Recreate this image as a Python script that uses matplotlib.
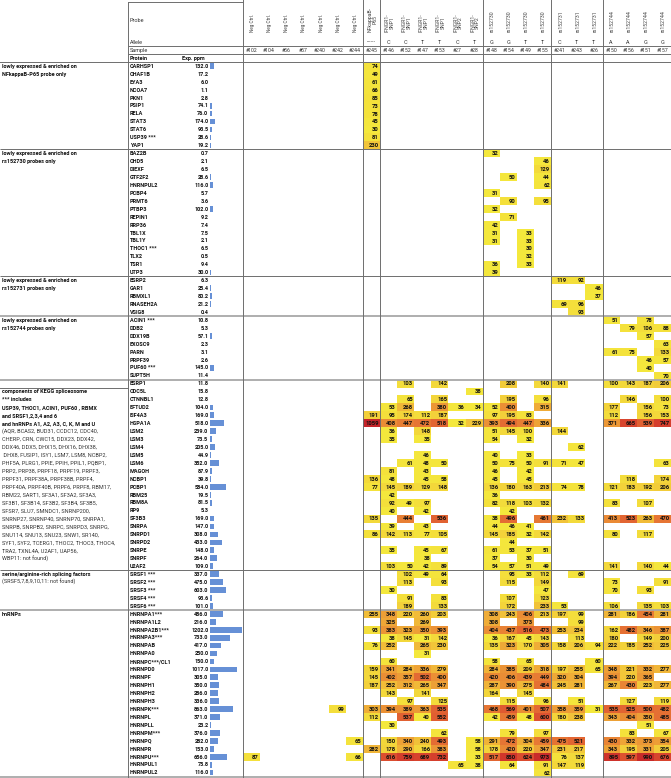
import numpy as np
import matplotlib
matplotlib.use("Agg")
import matplotlib.pyplot as plt
from matplotlib.colors import LinearSegmentedColormap, Normalize

plt.rcParams['font.family'] = ['Roboto', 'DejaVu Sans']

# ---------------- data ----------------
samples = ["#102", "#104", "#56", "#57", "#240", "#242", "#244", "#245",
           "#146", "#152", "#147", "#153", "#27", "#28",
           "#148", "#154", "#149", "#155", "#241", "#243", "#26",
           "#150", "#156", "#151", "#157"]
probes = ["Neg Ctrl."] * 7 + ["NFkappaB-\nP65"] + ["IFNGR1-\nSNP1"] * 4 + ["IFNGR1-\nSNP2"] * 2 + \
         ["rs152730"] * 4 + ["rs152731"] * 3 + ["rs152744"] * 4
alleles = [""] * 7 + ["------"] + ["C", "C", "T", "T", "C", "T", "G", "G", "T", "T",
                                  "C", "T", "T", "A", "A", "G", "G"]
group_breaks = [7, 8, 14, 18, 21]

sec1_labels = [("lowly expressed & enriched on", True), ("NFkappaB-P65 probe only", True)]
sec1_proteins = ["CARHSP1", "CHAF1B", "EYA3", "NCOA7", "PKN1", "PSIP1", "RELA", "STAT3", "STAT6",
                 "USP39 ***", "YAP1"]
sec1_ppm = [132.0, 17.2, 6.0, 1.1, 2.8, 74.1, 76.0, 174.0, 93.5, 28.6, 19.2]
sec1_cells = [{"#245": 74}, {"#245": 49}, {"#245": 61}, {"#245": 66}, {"#245": 85}, {"#245": 73},
              {"#245": 78}, {"#245": 45}, {"#245": 30}, {"#245": 81}, {"#245": 230}]

sec2_labels = [("lowly expressed & enriched on", True), ("rs152730 probes only", True)]
sec2_proteins = ["BAZ2B", "CHD5", "DIEXF", "GTF2F2", "HNRNPUL2", "PCBP4", "PRMT6", "PTBP3", "REPIN1",
                 "RRP36", "TBL1X", "TBL1Y", "THOC1 ***", "TLX2", "TSR1", "UTP3"]
sec2_ppm = [0.7, 2.1, 6.5, 28.6, 116.0, 5.7, 3.6, 102.0, 9.2, 7.4, 7.5, 2.1, 6.5, 0.5, 9.4, 30.0]
sec2_cells = [{"#148": 32}, {"#155": 46}, {"#155": 129}, {"#154": 50, "#155": 44}, {"#155": 62},
              {"#148": 31}, {"#154": 90, "#155": 95}, {"#148": 32}, {"#154": 71}, {"#148": 42},
              {"#148": 31, "#149": 33}, {"#148": 31, "#149": 33}, {"#149": 30}, {"#149": 32},
              {"#148": 36, "#149": 33}, {"#148": 39}]

sec3_labels = [("lowly expressed & enriched on", True), ("rs152731 probes only", True)]
sec3_proteins = ["ESRP2", "GAR1", "RBMXL1", "RNASEH2A", "VSIG8"]
sec3_ppm = [6.3, 25.4, 80.2, 21.2, 0.4]
sec3_cells = [{"#241": 119, "#243": 92}, {"#26": 46}, {"#26": 37}, {"#241": 69, "#243": 96}, {"#243": 93}]

sec4_labels = [("lowly expressed & enriched on", True), ("rs152744 probes only", True)]
sec4_proteins = ["ACIN1 ***", "DDB2", "DDX19B", "EXOSC9", "PARN", "PRPF39", "PUF60 ***", "SUPT5H"]
sec4_ppm = [10.8, 5.3, 57.1, 2.3, 3.1, 2.6, 145.0, 11.4]
sec4_cells = [{"#150": 51, "#151": 78}, {"#156": 79, "#151": 106, "#157": 88}, {"#151": 57},
              {"#157": 63}, {"#150": 61, "#156": 75, "#157": 133}, {"#151": 46, "#157": 57},
              {"#151": 40}, {"#157": 70}]

sec5_labels = [("components of KEGG spliceosome", True), ("*** includes", True),
               ("USP39, THOC1, ACIN1, PUF60 , RBMX", True), ("and SRSF1,2,3,4 and 6", True),
               ("and hnRNPs A1, A2, A3, C, K, M and U", True),
               ("(AQR, BCAS2, BUD31, CCDC12, CDC40,", False), ("CHERP, CRN, CWC15, DDX23, DDX42,", False),
               ("DDX46, DDX5, DHX15, DHX16, DHX38,", False), (" DHX8, FUSIP1, ISY1, LSM7, LSM8, NCBP2,", False),
               ("PHF5A, PLRG1, PPIE, PPIH, PPIL1, PQBP1,", False), ("PRP2, PRP38, PRPF18, PRPF19, PRPF3,", False),
               ("PRPF31, PRPF38A, PRPF38B, PRPF4,", False), ("PRPF40A, PRPF40B, PRPF6, PRPF8, RBM17,", False),
               ("RBM22, SART1, SF3A1, SF3A2, SF3A3,", False), ("SF3B1, SF3B14, SF3B2, SF3B4, SF3B5,", False),
               ("SFSR7, SLU7, SMNDC1, SNRNP200,", False), ("SNRNP27, SNRNP40, SNRNP70, SNRPA1,", False),
               ("SNRPB, SNRPB2, SNRPC, SNRPD3, SNRPG,", False), ("SNU114, SNU13, SNU23, SNW1, SR140,", False),
               ("SYF1, SYF2, TCERG1, THOC2, THOC3, THOC4,", False), ("TRA2, TXNL4A, U2AF1, UAP56,", False),
               ("WBP11: not found)", False)]
sec5_proteins = ["ESRP1", "CDC5L", "CTNNBL1", "EFTUD2", "EIF4A3", "HSPA1A", "LSM2", "LSM3", "LSM4", "LSM5",
                 "LSM6", "MAGOH", "NCBP1", "PCBP1", "RBM25", "RBM8A", "RP9", "SF3B3", "SNRPA", "SNRPD1",
                 "SNRPD2", "SNRPE", "SNRPF", "U2AF2"]
sec5_ppm = [11.8, 15.8, 12.8, 104.0, 169.0, 518.0, 239.0, 73.5, 205.0, 44.9, 352.0, 87.9, 39.8, 584.0,
            19.5, 81.5, 5.3, 169.0, 147.0, 308.0, 433.0, 148.0, 264.0, 109.0]
sec5_cells = [
    {"#152": 103, "#153": 142, "#154": 208, "#155": 140, "#241": 141, "#150": 100, "#156": 143, "#151": 187, "#157": 206},
    {"#28": 38},
    {"#152": 65, "#153": 165, "#154": 195, "#155": 96, "#156": 146, "#157": 100},
    {"#146": 53, "#152": 268, "#153": 380, "#27": 36, "#28": 34, "#148": 52, "#154": 400, "#155": 315,
     "#150": 177, "#151": 156, "#157": 73},
    {"#245": 191, "#146": 95, "#152": 174, "#147": 112, "#153": 187, "#148": 97, "#154": 195, "#149": 83,
     "#150": 112, "#151": 156, "#157": 153},
    {"#245": 1059, "#146": 408, "#152": 447, "#147": 472, "#153": 518, "#27": 32, "#28": 229, "#148": 393,
     "#154": 494, "#149": 447, "#155": 336, "#150": 371, "#156": 665, "#151": 539, "#157": 747},
    {"#146": 36, "#147": 148, "#148": 51, "#154": 145, "#149": 100, "#241": 144},
    {"#146": 35, "#147": 35, "#148": 54, "#149": 32},
    {"#243": 62},
    {"#147": 46, "#148": 40, "#149": 33},
    {"#152": 61, "#147": 48, "#153": 50, "#148": 50, "#154": 75, "#149": 50, "#155": 91, "#241": 71,
     "#243": 47, "#157": 63},
    {"#146": 81, "#147": 43, "#148": 46, "#149": 42},
    {"#245": 136, "#146": 48, "#147": 45, "#153": 58, "#148": 45, "#149": 45, "#156": 118, "#157": 174},
    {"#245": 77, "#146": 145, "#152": 189, "#147": 129, "#153": 148, "#148": 136, "#154": 180, "#149": 163,
     "#155": 213, "#241": 74, "#243": 78, "#150": 121, "#156": 183, "#151": 192, "#157": 206},
    {"#146": 42, "#148": 36},
    {"#146": 92, "#152": 49, "#147": 97, "#148": 82, "#154": 118, "#149": 103, "#155": 132, "#150": 83, "#151": 107},
    {"#146": 40, "#147": 42, "#154": 42},
    {"#245": 135, "#152": 444, "#153": 536, "#148": 38, "#154": 496, "#155": 461, "#241": 232, "#243": 133,
     "#150": 413, "#156": 523, "#151": 263, "#157": 470},
    {"#146": 39, "#147": 43, "#148": 44, "#154": 46, "#149": 41},
    {"#245": 86, "#146": 142, "#152": 113, "#147": 77, "#153": 105, "#148": 145, "#154": 185, "#149": 32,
     "#155": 142, "#150": 80, "#151": 117},
    {"#154": 44},
    {"#146": 35, "#147": 45, "#153": 67, "#148": 61, "#154": 53, "#149": 37, "#155": 51},
    {"#147": 38, "#148": 37, "#149": 30},
    {"#146": 103, "#152": 50, "#147": 42, "#153": 89, "#148": 54, "#154": 57, "#149": 51, "#155": 49,
     "#150": 141, "#151": 140, "#157": 44},
]

sec6_labels = [("serine/arginine-rich splicing factors", True), ("(SRSF5,7,8,9,10,11: not found)", False)]
sec6_proteins = ["SRSF1 ***", "SRSF2 ***", "SRSF3 ***", "SRSF4 ***", "SRSF6 ***"]
sec6_ppm = [337.0, 475.0, 603.0, 93.6, 101.0]
sec6_cells = [
    {"#152": 102, "#147": 49, "#153": 64, "#154": 95, "#149": 33, "#155": 112, "#243": 69},
    {"#152": 113, "#153": 93, "#154": 115, "#155": 149, "#150": 73, "#157": 91},
    {"#146": 30, "#155": 47, "#150": 70, "#151": 93},
    {"#152": 91, "#153": 83, "#154": 107, "#155": 123},
    {"#152": 189, "#153": 133, "#154": 172, "#155": 233, "#241": 53, "#150": 106, "#151": 135, "#157": 103},
]

sec7_labels = [("hnRNPs", True)]
sec7_proteins = ["HNRNPA1***", "HNRNPA1L2", "HNRNPA2B1***", "HNRNPA3***", "HNRNPAB", "HNRNPA0",
                 "HNRNPC***/CL1", "HNRNPD0", "HNRNPF", "HNRNPH1", "HNRNPH2", "HNRNPH3", "HNRNPK***",
                 "HNRNPL", "HNRNPLL", "HNRNPM***", "HNRNPQ", "HNRNPR", "HNRNPU***", "HNRNPUL1", "HNRNPUL2"]
sec7_ppm = [486.0, 216.0, 1202.0, 733.0, 417.0, 250.0, 150.0, 1017.0, 305.0, 350.0, 286.0, 336.0, 863.0,
            371.0, 23.2, 376.0, 282.0, 153.0, 656.0, 75.8, 116.0]
sec7_cells = [
    {"#245": 255, "#146": 348, "#152": 220, "#147": 260, "#153": 203, "#148": 308, "#154": 243, "#149": 406,
     "#155": 213, "#241": 197, "#243": 99, "#150": 281, "#156": 186, "#151": 454, "#157": 281},
    {"#146": 325, "#147": 269, "#148": 308, "#149": 373, "#243": 99},
    {"#245": 93, "#146": 383, "#152": 323, "#147": 350, "#153": 393, "#148": 404, "#154": 437, "#149": 516,
     "#155": 473, "#241": 253, "#243": 234, "#150": 162, "#156": 482, "#151": 346, "#157": 387},
    {"#146": 38, "#152": 145, "#147": 31, "#153": 142, "#148": 36, "#154": 167, "#149": 45, "#155": 143,
     "#243": 113, "#150": 180, "#151": 149, "#157": 200},
    {"#245": 76, "#146": 252, "#147": 265, "#153": 230, "#148": 135, "#154": 323, "#149": 170, "#155": 305,
     "#241": 158, "#243": 206, "#26": 94, "#150": 222, "#156": 185, "#151": 252, "#157": 225},
    {"#147": 31},
    {"#146": 60, "#148": 58, "#149": 65, "#26": 60},
    {"#245": 159, "#146": 341, "#152": 284, "#147": 336, "#153": 279, "#148": 284, "#154": 385, "#149": 209,
     "#155": 318, "#241": 197, "#243": 255, "#26": 65, "#150": 348, "#156": 221, "#151": 332, "#157": 277},
    {"#245": 145, "#146": 402, "#152": 357, "#147": 502, "#153": 400, "#148": 420, "#154": 406, "#149": 439,
     "#155": 449, "#241": 320, "#243": 304, "#150": 394, "#156": 220, "#151": 365},
    {"#245": 187, "#146": 252, "#152": 312, "#147": 265, "#153": 347, "#148": 287, "#154": 390, "#149": 275,
     "#155": 484, "#241": 245, "#243": 281, "#150": 267, "#156": 430, "#151": 223, "#157": 277},
    {"#146": 143, "#147": 141, "#148": 164, "#149": 145},
    {"#152": 97, "#153": 125, "#154": 115, "#155": 96, "#243": 51, "#156": 127, "#157": 119},
    {"#242": 99, "#245": 303, "#146": 394, "#152": 389, "#147": 363, "#153": 535, "#148": 468, "#154": 569,
     "#149": 401, "#155": 507, "#241": 358, "#243": 359, "#26": 31, "#150": 535, "#156": 525, "#151": 500,
     "#157": 482},
    {"#245": 112, "#152": 537, "#147": 40, "#153": 552, "#148": 42, "#154": 459, "#149": 48, "#155": 600,
     "#241": 180, "#243": 238, "#150": 343, "#156": 404, "#151": 350, "#157": 485},
    {"#146": 30, "#151": 51},
    {"#153": 62, "#154": 79, "#155": 97, "#156": 83, "#157": 67},
    {"#244": 65, "#146": 150, "#152": 340, "#147": 240, "#153": 493, "#28": 58, "#148": 291, "#154": 472,
     "#149": 304, "#155": 459, "#241": 475, "#243": 521, "#150": 430, "#156": 332, "#151": 373, "#157": 354},
    {"#245": 282, "#146": 178, "#152": 290, "#147": 166, "#153": 383, "#28": 58, "#148": 178, "#154": 420,
     "#149": 220, "#155": 347, "#241": 231, "#243": 217, "#150": 343, "#156": 195, "#151": 331, "#157": 205},
    {"#102": 87, "#244": 66, "#146": 616, "#152": 759, "#147": 689, "#153": 732, "#28": 33, "#148": 517,
     "#154": 850, "#149": 624, "#155": 973, "#241": 76, "#243": 137, "#150": 895, "#156": 597, "#151": 990,
     "#157": 676},
    {"#27": 65, "#28": 38, "#154": 64, "#155": 91, "#241": 147, "#243": 119},
    {"#155": 62},
]

sections = [
    (sec1_labels, 0, sec1_proteins, sec1_ppm, sec1_cells, '#6e6e6e', 0.7),
    (sec2_labels, 0, sec2_proteins, sec2_ppm, sec2_cells, '#6e6e6e', 0.7),
    (sec3_labels, 0, sec3_proteins, sec3_ppm, sec3_cells, '#6e6e6e', 0.7),
    (sec4_labels, 0, sec4_proteins, sec4_ppm, sec4_cells, '#a8a8a8', 1.3),
    (sec5_labels, 1, sec5_proteins, sec5_ppm, sec5_cells, '#a8a8a8', 1.3),
    (sec6_labels, 0, sec6_proteins, sec6_ppm, sec6_cells, '#6e6e6e', 0.7),
    (sec7_labels, 0, sec7_proteins, sec7_ppm, sec7_cells, '#a8a8a8', 1.3),
]

# ---------------- assemble ----------------
proteins, ppm, starts = [], [], []
for lab, off, p, e, c, lc, lw in sections:
    starts.append(len(proteins))
    proteins += p
    ppm += e
n_rows = len(proteins)
n_cols = len(samples)
M = np.full((n_rows, n_cols), np.nan)
r = 0
for lab, off, p, e, c, lc, lw in sections:
    for row in c:
        for s, v in row.items():
            M[r, samples.index(s)] = v
        r += 1

W, H = 671, 778
fig = plt.figure(figsize=(W / 100, H / 100), dpi=100)
fig.patch.set_facecolor('white')

# pixel layout
Y0, Y1 = 62.0, 776.6
HX0, HX1 = 243.0, 671.0
BX0, BX1 = 210.0, 243.0
RH = (Y1 - Y0) / n_rows
CW = (HX1 - HX0) / n_cols


def fig_rect(x0, x1, y0, y1):
    return [x0 / W, 1 - y1 / H, (x1 - x0) / W, (y1 - y0) / H]


cmap = LinearSegmentedColormap.from_list('heat', [
    (0.00, '#f4e83c'), (0.15, '#f3d23a'), (0.27, '#efac37'), (0.37, '#ea8b35'),
    (0.45, '#e46c33'), (0.60, '#d9462e'), (0.80, '#d0352b'), (1.00, '#c4242a')])
norm = Normalize(vmin=30, vmax=1060)

axh = fig.add_axes(fig_rect(HX0, HX1, Y0, Y1))
axh.pcolormesh(np.arange(n_cols + 1), np.arange(n_rows + 1), np.ma.masked_invalid(M),
               cmap=cmap, norm=norm, edgecolors='none')
axh.set_xlim(0, n_cols)
axh.set_ylim(n_rows, 0)
axh.axis('off')
for i in range(n_rows):
    for j in range(n_cols):
        v = M[i, j]
        if not np.isnan(v):
            axh.text(j + 0.93, i + 0.55, f"{int(v)}", ha='right', va='center',
                     fontsize=4.2, fontweight='bold', color='#111111')

axb = fig.add_axes(fig_rect(BX0, BX1, Y0, Y1))
axb.barh(np.arange(n_rows) + 0.5, ppm, height=0.72, color='#6690d6', edgecolor='none')
axb.set_xlim(0, 1202 * (BX1 - BX0) / 32.0)
axb.set_ylim(n_rows, 0)
axb.axis('off')

# overlay for text and lines (pixel coordinates)
axo = fig.add_axes([0, 0, 1, 1])
axo.set_xlim(0, W)
axo.set_ylim(H, 0)
axo.axis('off')
axo.patch.set_alpha(0)

def rowy(i):
    return Y0 + (i + 0.5) * RH

for i, (p, e) in enumerate(zip(proteins, ppm)):
    axo.text(130, rowy(i) + 0.3, p, ha='left', va='center', fontsize=4.0, fontweight='bold', color='#111111')
    axo.text(208.5, rowy(i) + 0.3, f"{e:.1f}", ha='right', va='center', fontsize=4.0,
             fontweight='bold', color='#111111')

for (lab, off, p, e, c, lc, lw), st in zip(sections, starts):
    for k, (t, b) in enumerate(lab):
        axo.text(2, rowy(st + off + k) + 0.3, t, ha='left', va='center', fontsize=4.0,
                 fontweight='bold' if b else 'normal', color='#111111' if b else '#333333')
    yline = Y0 + st * RH
    if st > 0:
        axo.plot([0, W], [yline, yline], color=lc, lw=lw, solid_capstyle='butt')
    if off:
        ysub = Y0 + (st + off) * RH
        axo.plot([0, 128], [ysub, ysub], color='#6e6e6e', lw=0.7)
axo.plot([0, W], [Y1, Y1], color='#a8a8a8', lw=1.3)

# header
axo.text(130, 20, "Probe", fontsize=4.0, va='center', color='#333333')
axo.text(130, 42, "Allele", fontsize=4.0, va='center', color='#333333')
axo.text(130, 50, "Sample", fontsize=4.0, va='center', color='#333333')
axo.text(130, 58, "Protein", fontsize=4.0, va='center', fontweight='bold', color='#111111')
axo.text(205, 58, "Exp. ppm", fontsize=4.0, va='center', ha='right', fontweight='bold', color='#111111')

for j in range(n_cols):
    xc = HX0 + (j + 0.5) * CW
    fs = 3.3 if probes[j].startswith("Neg") else 3.7
    axo.text(xc + 1.0, 32, probes[j], rotation=90, ha='center', va='bottom', fontsize=fs,
             color='#444444', multialignment='center', linespacing=1.0)
    if alleles[j]:
        axo.text(xc, 42, alleles[j], ha='center', va='center', fontsize=4.0, color='#333333')
    axo.text(xc, 50.3, samples[j], ha='center', va='center', fontsize=3.7, color='#333333')

lc = '#6e6e6e'
axo.plot([128, HX0], [1.8, 1.8], color=lc, lw=0.7)
axo.plot([128, W], [46, 46], color=lc, lw=0.7)
axo.plot([128, W], [54, 54], color=lc, lw=0.7)
axo.plot([0, W], [Y0, Y0], color=lc, lw=0.7)
axo.plot([128, 128], [1.8, Y1], color=lc, lw=0.7)
axo.plot([HX0, HX0], [0, Y1], color=lc, lw=0.7)
for gb in group_breaks:
    xg = HX0 + gb * CW
    axo.plot([xg, xg], [0, Y1], color=lc, lw=0.7)

fig.savefig("out.png", dpi=100, facecolor='white')
